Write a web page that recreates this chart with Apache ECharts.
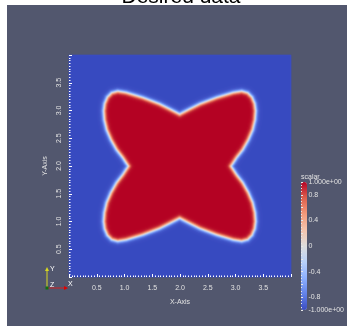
<!DOCTYPE html>
<html>
<head>
<meta charset="utf-8">
<script src="https://cdn.jsdelivr.net/npm/echarts@6/dist/echarts.min.js"></script>
<style>
  html, body { margin: 0; padding: 0; background: #ffffff; }
  #chart { width: 347px; height: 326px; }
</style>
</head>
<body>
<div id="chart"></div>
<script>
// ---- data -------------------------------------------------------------
const chartTitle = 'Desired data';
const fieldName = 'scalar';
const xRange = [0, 4];
const yRange = [0, 4];
const cellsPerSide = 222;
const shapeCenter = [2.0, 2.0];
// zero-level outline of the upper-left lobe, offsets from the centre,
// running from the top neck round to the left neck
const lobeDx = [0.000, -0.186, -0.366, -0.667, -0.967, -1.117, -1.225, -1.303, -1.351, -1.369, -1.357, -1.315, -1.237, -1.135, -1.027, -0.925];
const lobeDy = [0.937, 1.033, 1.123, 1.237, 1.327, 1.351, 1.321, 1.243, 1.129, 0.997, 0.835, 0.655, 0.474, 0.294, 0.156, 0.000];
// half-thickness of the diffuse interface
const interfaceWidth = 0.04;
const xTickLabels = ['0.5', '1.0', '1.5', '2.0', '2.5', '3.0', '3.5'];
const yTickLabels = ['0.5', '1.0', '1.5', '2.0', '2.5', '3.0', '3.5'];
const barTickLabels = { '1': '1.000e+00', '0.8': '0.8', '0.4': '0.4', '0': '0', '-0.4': '-0.4', '-0.8': '-0.8', '-1': '-1.000e+00' };
const coolWarm = ['#3b4cc0', '#6282ea', '#8db0fe', '#b8d0f9', '#dddddd', '#f5c4ad', '#f49a7b', '#de604d', '#b40426'];

// ---- full outline from the four mirrored lobes -----------------------
function buildOutline() {
  const n = lobeDx.length;
  const pts = [];
  for (let k = 0; k < n; k++) pts.push([lobeDx[k], lobeDy[k]]);            // upper-left
  for (let k = n - 2; k >= 0; k--) pts.push([lobeDx[k], -lobeDy[k]]);       // lower-left
  for (let k = 1; k < n; k++) pts.push([-lobeDx[k], -lobeDy[k]]);          // lower-right
  for (let k = n - 2; k >= 1; k--) pts.push([-lobeDx[k], lobeDy[k]]);       // upper-right
  return pts.map(p => [p[0] + shapeCenter[0], p[1] + shapeCenter[1]]);
}
const outline = buildOutline();

function segDist(px, py, ax, ay, bx, by) {
  const vx = bx - ax, vy = by - ay;
  let t = ((px - ax) * vx + (py - ay) * vy) / (vx * vx + vy * vy);
  t = Math.max(0, Math.min(1, t));
  const dx = px - (ax + t * vx), dy = py - (ay + t * vy);
  return Math.sqrt(dx * dx + dy * dy);
}
function inside(px, py) {
  let c = false;
  for (let i = 0, j = outline.length - 1; i < outline.length; j = i++) {
    const [xi, yi] = outline[i], [xj, yj] = outline[j];
    if ((yi > py) !== (yj > py) && px < (xj - xi) * (py - yi) / (yj - yi) + xi) c = !c;
  }
  return c;
}
function fieldValue(px, py) {
  let d = Infinity;
  for (let i = 0, j = outline.length - 1; i < outline.length; j = i++) {
    d = Math.min(d, segDist(px, py, outline[j][0], outline[j][1], outline[i][0], outline[i][1]));
  }
  return Math.tanh((inside(px, py) ? d : -d) / interfaceWidth);
}

const cellIndex = [];
for (let i = 0; i < cellsPerSide; i++) cellIndex.push(i);
const heatData = [];
const stepX = (xRange[1] - xRange[0]) / cellsPerSide;
const stepY = (yRange[1] - yRange[0]) / cellsPerSide;
for (let i = 0; i < cellsPerSide; i++) {
  for (let j = 0; j < cellsPerSide; j++) {
    heatData.push([i, j, fieldValue(xRange[0] + (i + 0.5) * stepX, yRange[0] + (j + 0.5) * stepY)]);
  }
}

// ---- chart ------------------------------------------------------------
const FONT = 'Liberation Sans, Arial, sans-serif';
const LABEL = '#e2e2e2';
const plot = { left: 69, top: 55, width: 222, height: 222 };
const bar = { left: 301, top: 182, width: 6, height: 128 };

const chart = echarts.init(document.getElementById('chart'), null, { renderer: 'canvas' });
chart.setOption({
  animation: false,
  backgroundColor: '#ffffff',
  graphic: [
    { type: 'rect', z: -10, shape: { x: 7, y: 5, width: 340, height: 321 }, style: { fill: '#52576e' } },
    { type: 'text', z: 10, x: 181, y: -3, style: { text: chartTitle, font: '21px ' + FONT, fill: '#000000', align: 'center', verticalAlign: 'middle' } },
    { type: 'text', z: 10, x: 301, y: 177, style: { text: fieldName, font: '7px ' + FONT, fill: LABEL, align: 'left', verticalAlign: 'middle' } },
    // orientation triad
    { type: 'line', z: 10, shape: { x1: 47, y1: 288, x2: 47, y2: 269 }, style: { stroke: '#d8d820', lineWidth: 1 } },
    { type: 'polygon', z: 10, shape: { points: [[45, 271], [49, 271], [47, 267]] }, style: { fill: '#d8d820' } },
    { type: 'line', z: 10, shape: { x1: 47, y1: 288, x2: 66, y2: 288 }, style: { stroke: '#d02020', lineWidth: 1 } },
    { type: 'polygon', z: 10, shape: { points: [[64, 286], [64, 290], [68, 288]] }, style: { fill: '#e00000' } },
    { type: 'rect', z: 11, shape: { x: 45.5, y: 286.5, width: 3, height: 3 }, style: { fill: '#107010' } },
    { type: 'text', z: 10, x: 50, y: 269, style: { text: 'Y', font: '7px ' + FONT, fill: '#ffffff', verticalAlign: 'middle' } },
    { type: 'text', z: 10, x: 50, y: 285, style: { text: 'Z', font: '7px ' + FONT, fill: '#ffffff', verticalAlign: 'middle' } },
    { type: 'text', z: 10, x: 68, y: 284, style: { text: 'X', font: '7px ' + FONT, fill: '#ffffff', verticalAlign: 'middle' } }
  ],
  grid: [
    Object.assign({ containLabel: false }, plot),
    Object.assign({ containLabel: false }, bar)
  ],
  xAxis: [
    { type: 'category', gridIndex: 0, data: cellIndex, show: false, boundaryGap: true },
    {
      type: 'value', gridIndex: 0, min: xRange[0], max: xRange[1], interval: 0.5, position: 'bottom', z: 10,
      name: 'X-Axis', nameLocation: 'middle', nameGap: 22,
      nameTextStyle: { color: LABEL, fontSize: 7, fontFamily: FONT },
      axisLine: { show: false },
      axisTick: { show: true, inside: true, length: 3, lineStyle: { color: '#ffffff', width: 1 } },
      minorTick: { show: true, splitNumber: 10, length: 1.5, lineStyle: { color: '#ffffff', width: 1 } },
      splitLine: { show: false },
      axisLabel: {
        color: LABEL, fontSize: 7, fontFamily: FONT, margin: 8,
        formatter: v => { const s = v.toFixed(1); return xTickLabels.indexOf(s) >= 0 ? s : ''; }
      }
    },
    { type: 'value', gridIndex: 1, min: 0, max: 1, show: false }
  ],
  yAxis: [
    { type: 'category', gridIndex: 0, data: cellIndex, show: false, boundaryGap: true },
    {
      type: 'value', gridIndex: 0, min: yRange[0], max: yRange[1], interval: 0.5, position: 'left', z: 10,
      name: 'Y-Axis', nameLocation: 'middle', nameGap: 18,
      nameTextStyle: { color: LABEL, fontSize: 7, fontFamily: FONT },
      axisLine: { show: false },
      axisTick: { show: true, inside: true, length: 3, lineStyle: { color: '#ffffff', width: 1 } },
      minorTick: { show: true, splitNumber: 10, length: 1.5, lineStyle: { color: '#ffffff', width: 1 } },
      splitLine: { show: false },
      axisLabel: {
        color: LABEL, fontSize: 7, fontFamily: FONT, margin: 6, rotate: 90,
        formatter: v => { const s = v.toFixed(1); return yTickLabels.indexOf(s) >= 0 ? s : ''; }
      }
    },
    {
      type: 'value', gridIndex: 1, min: -1, max: 1, interval: 0.2, position: 'right', z: 10,
      axisLine: { show: false },
      axisTick: { show: true, inside: false, length: 2, lineStyle: { color: '#e8e8e8', width: 1 } },
      minorTick: { show: true, splitNumber: 4, length: 1, lineStyle: { color: '#e8e8e8', width: 1 } },
      splitLine: { show: false },
      axisLabel: {
        color: LABEL, fontSize: 7, fontFamily: FONT, margin: 2,
        formatter: v => { const k = String(Math.round(v * 10) / 10); return barTickLabels[k] !== undefined ? barTickLabels[k] : ''; }
      }
    }
  ],
  visualMap: {
    type: 'continuous', seriesIndex: 0, min: -1, max: 1, calculable: false,
    orient: 'vertical', left: bar.left, top: bar.top, itemWidth: bar.width, itemHeight: bar.height,
    padding: 0, text: null, hoverLink: false,
    inRange: { color: coolWarm }
  },
  series: [{
    type: 'heatmap', xAxisIndex: 0, yAxisIndex: 0, data: heatData,
    progressive: 0, emphasis: { disabled: true }, itemStyle: { borderWidth: 0 }
  }]
});
</script>
</body>
</html>
